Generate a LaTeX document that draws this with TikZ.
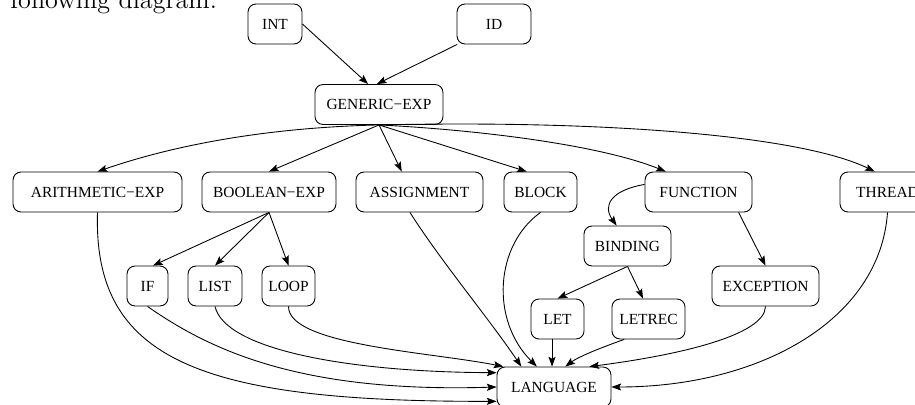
\documentclass[tikz,border=0pt]{standalone}
\usepackage{fontspec}
\newfontfamily\boxfont{Liberation Serif}
\usetikzlibrary{arrows.meta}

\begin{document}
\begin{tikzpicture}[x=0.02cm, y=-0.02cm,
    >={Stealth[length=5.5pt, width=4pt, inset=1pt]},
    box/.style={draw, rounded corners=0.16cm, minimum height=0.8cm, inner sep=0pt,
      line width=0.5pt, font=\boxfont\fontsize{8.8}{10}\selectfont},
    edge/.style={->, line width=0.5pt}]
    \useasboundingbox (0,0) rectangle (915,405);
    \clip (0,0) rectangle (915,405);

    % 本文の行（上が切れている）
    \node[anchor=base west, inner sep=0pt, font=\fontsize{14.9}{18}\selectfont] (caption) at (10,9) {following diagram:};

    % 上段のノード
    \node[box, minimum width=1.08cm] (INT) at (275, 24) {INT};
    \node[box, minimum width=1.48cm] (ID) at (494, 24) {ID};
    \node[box, minimum width=2.56cm] (GEN) at (379, 104.5) {GENERIC−EXP};

    % 中段のノード
    \node[box, minimum width=3.38cm] (ARITH) at (97.5, 192) {ARITHMETIC−EXP};
    \node[box, minimum width=2.68cm] (BOOL) at (269, 192) {BOOLEAN−EXP};
    \node[box, minimum width=2.54cm] (ASSIGN) at (419.5, 192) {ASSIGNMENT};
    \node[box, minimum width=1.46cm] (BLOCK) at (540.5, 192) {BLOCK};
    \node[box, minimum width=2.14cm] (FUNC) at (698.5, 192) {FUNCTION};
    \node[box, minimum width=1.90cm] (THREAD) at (887.5, 192) {THREAD};
    \node[box, minimum width=1.74cm] (BIND) at (627.5, 246) {BINDING};

    % 下段のノード
    \node[box, minimum width=0.82cm] (IF) at (147.5, 286) {IF};
    \node[box, minimum width=1.08cm] (LIST) at (215, 286) {LIST};
    \node[box, minimum width=1.06cm] (LOOP) at (288.5, 286) {LOOP};
    \node[box, minimum width=2.14cm] (EXC) at (765.5, 286) {EXCEPTION};
    \node[box, minimum width=1.06cm] (LET) at (557.5, 319) {LET};
    \node[box, minimum width=1.46cm] (LETREC) at (648.5, 319) {LETREC};
    \node[box, minimum width=2.28cm] (LANG) at (554, 387) {LANGUAGE};

    % エッジ（上段）
    \draw[edge] (INT.east) -- (GEN.118);
    \draw[edge] (ID.209) -- (GEN.96);

    % エッジ（GENERIC-EXP から）
    \draw[edge] (GEN.south) .. controls (250,128) and (160,150) .. (ARITH.north);
    \draw[edge] (GEN.south) -- (BOOL.north);
    \draw[edge] (GEN.south) -- (ASSIGN.131);
    \draw[edge] (GEN.south) -- (BLOCK.124);
    \draw[edge] (GEN.south) .. controls (480,130) and (600,145) .. (FUNC.148);
    \draw[edge] (GEN.south) .. controls (600,120) and (800,135) .. (THREAD.122);

    % エッジ（中段）
    \draw[edge] (BOOL.south) -- (IF.75);
    \draw[edge] (BOOL.south) -- (LIST.north);
    \draw[edge] (BOOL.south) -- (LOOP.north);
    \draw[edge] (FUNC.172) .. controls (612,190) and (602,205) .. (BIND.118);
    \draw[edge] (FUNC.333) -- (EXC.north);
    \draw[edge] (BIND.south) -- (LET.north);
    \draw[edge] (BIND.south) -- (LETREC.105);

    % エッジ（LANGUAGE へ）
    \draw[edge] (ARITH.south) .. controls (93,360) and (200,402) .. (LANG.194);
    \draw[edge] (IF.south) .. controls (210,350) and (300,393) .. (LANG.west);
    \draw[edge] (LIST.south) .. controls (225,350) and (350,372) .. (LANG.166);
    \draw[edge] (LOOP.south) .. controls (288,345) and (430,352) .. (LANG.158);
    \draw[edge] (ASSIGN.245) .. controls (440,260) and (490,320) .. (LANG.148);
    \draw[edge] (BLOCK.south) .. controls (495,245) and (490,320) .. (LANG.130);
    \draw[edge] (LET.255) -- (LET.255 |- LANG.north);
    \draw[edge] (LETREC.220) .. controls (600,348) and (578,357) .. (LANG.61);
    \draw[edge] (EXC.south) .. controls (765,335) and (680,355) .. (LANG.30);
    \draw[edge] (THREAD.south) .. controls (880,320) and (760,387) .. (LANG.east);
\end{tikzpicture}
\end{document}
